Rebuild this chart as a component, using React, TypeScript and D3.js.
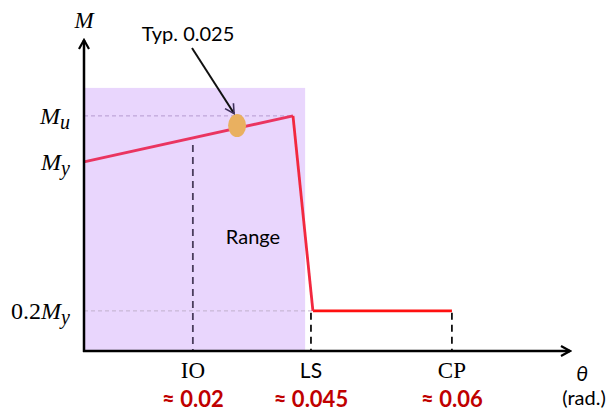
import * as d3 from 'd3';
import { useEffect, useRef } from 'react';

// schematic units: theta on [0,100], M on [0,100]
const backbone = [
  { t: 0, m: 60.8 },
  { t: 43.0, m: 75.6 },
];
const degrade = [
  { t: 43.0, m: 75.6 },
  { t: 47.1, m: 12.9 },
  { t: 75.7, m: 12.9 },
];
const yTicks = [
  { label: 'M', sub: 'u', pre: '', m: 75.6 },
  { label: 'M', sub: 'y', pre: '', m: 60.8 },
  { label: 'M', sub: 'y', pre: '0.2', m: 12.9 },
];
const limits = [
  { name: 'IO', value: '≈ 0.02', t: 22.4, top: 66.2, serif: true, color: '#4a3d5c' },
  { name: 'LS', value: '≈ 0.045', t: 46.7, top: 12.3, serif: false, color: '#111' },
  { name: 'CP', value: '≈ 0.06', t: 75.7, top: 12.3, serif: true, color: '#111' },
];
const rangeBox = { t0: 0, t1: 45.5, m1: 84.6 };
const typical = { t: 31.5, m: 72.5, label: 'Typ. 0.025' };

export default function App() {
  const ref = useRef<SVGSVGElement>(null);

  useEffect(() => {
    const width = 612;
    const height = 413;
    const svg = d3.select(ref.current);
    svg.selectAll('*').remove();

    const x = d3.scaleLinear().domain([0, 100]).range([84, 570]);
    const y = d3.scaleLinear().domain([0, 100]).range([351, 40]);

    const sans = 'Lato, "Open Sans", sans-serif';
    const serif = '"Liberation Serif", "DejaVu Serif", serif';

    const defs = svg.append('defs');
    defs.append('marker')
      .attr('id', 'ax')
      .attr('viewBox', '0 0 12 12')
      .attr('refX', 10).attr('refY', 6)
      .attr('markerWidth', 12).attr('markerHeight', 12)
      .attr('markerUnits', 'userSpaceOnUse')
      .attr('orient', 'auto')
      .append('path')
      .attr('d', 'M1,1 L10,6 L1,11')
      .attr('fill', 'none')
      .attr('stroke', '#000')
      .attr('stroke-width', 2.2);
    defs.append('marker')
      .attr('id', 'pt')
      .attr('viewBox', '0 0 12 12')
      .attr('refX', 10).attr('refY', 6)
      .attr('markerWidth', 12).attr('markerHeight', 12)
      .attr('markerUnits', 'userSpaceOnUse')
      .attr('orient', 'auto')
      .append('path')
      .attr('d', 'M1,1 L10,6 L1,11')
      .attr('fill', 'none')
      .attr('stroke', '#3d2f5a')
      .attr('stroke-width', 1.6);

    // Range box
    svg.append('rect')
      .attr('x', x(rangeBox.t0))
      .attr('y', y(rangeBox.m1))
      .attr('width', x(rangeBox.t1) - x(rangeBox.t0))
      .attr('height', y(0) - y(rangeBox.m1))
      .attr('fill', '#e9d6fd');

    svg.append('text')
      .attr('x', 253).attr('y', 244)
      .attr('text-anchor', 'middle')
      .attr('font-family', sans)
      .attr('font-size', 20)
      .text('Range');

    // horizontal guide lines
    svg.append('line')
      .attr('x1', x(0)).attr('x2', x(43.0))
      .attr('y1', y(75.6)).attr('y2', y(75.6))
      .attr('stroke', '#b59ad0').attr('stroke-width', 1)
      .attr('stroke-dasharray', '4,3');
    svg.append('line')
      .attr('x1', x(0)).attr('x2', x(47.1))
      .attr('y1', y(12.9)).attr('y2', y(12.9))
      .attr('stroke', '#c0b0cc').attr('stroke-width', 1)
      .attr('stroke-dasharray', '4,3');

    // vertical limit lines
    svg.selectAll('line.lim')
      .data(limits)
      .enter()
      .append('line')
      .attr('class', 'lim')
      .attr('x1', d => x(d.t)).attr('x2', d => x(d.t))
      .attr('y1', d => y(d.top)).attr('y2', y(0))
      .attr('stroke', d => d.color)
      .attr('stroke-width', 1.8)
      .attr('stroke-dasharray', '7,5');

    const line = d3.line<{ t: number; m: number }>()
      .x(d => x(d.t))
      .y(d => y(d.m));

    svg.append('path')
      .attr('d', line(degrade.slice(1)))
      .attr('fill', 'none')
      .attr('stroke', '#ff1010')
      .attr('stroke-width', 2.8);
    svg.append('path')
      .attr('d', line(backbone))
      .attr('fill', 'none')
      .attr('stroke', '#ea3560')
      .attr('stroke-width', 2.8);
    svg.append('path')
      .attr('d', line(degrade.slice(0, 2)))
      .attr('fill', 'none')
      .attr('stroke', '#f2283f')
      .attr('stroke-width', 2.8)
      .attr('stroke-linejoin', 'round');

    // typical point
    svg.append('ellipse')
      .attr('cx', x(typical.t)).attr('cy', y(typical.m))
      .attr('rx', 9).attr('ry', 11.5)
      .attr('fill', '#e9b060');

    svg.append('line')
      .attr('x1', 192).attr('y1', 48)
      .attr('x2', x(typical.t) - 3).attr('y2', y(typical.m) - 12)
      .attr('stroke', '#111').attr('stroke-width', 2)
      .attr('marker-end', 'url(#pt)');

    svg.append('text')
      .attr('x', 188).attr('y', 41)
      .attr('text-anchor', 'middle')
      .attr('font-family', sans)
      .attr('font-size', 20)
      .text(typical.label);

    // axes
    svg.append('line')
      .attr('x1', x(0)).attr('y1', y(0) + 1)
      .attr('x2', x(0)).attr('y2', y(100))
      .attr('stroke', '#000').attr('stroke-width', 2.5)
      .attr('marker-end', 'url(#ax)');
    svg.append('line')
      .attr('x1', x(0) - 1).attr('y1', y(0))
      .attr('x2', x(100)).attr('y2', y(0))
      .attr('stroke', '#000').attr('stroke-width', 2.5)
      .attr('marker-end', 'url(#ax)');

    svg.append('text')
      .attr('x', 84).attr('y', 28)
      .attr('text-anchor', 'middle')
      .attr('font-family', serif)
      .attr('font-style', 'italic')
      .attr('font-size', 23)
      .text('M');

    // y labels
    const yl = svg.selectAll('text.yl')
      .data(yTicks)
      .enter()
      .append('text')
      .attr('class', 'yl')
      .attr('x', 70)
      .attr('y', d => y(d.m) + 8)
      .attr('text-anchor', 'end')
      .attr('font-family', serif)
      .attr('font-size', 24);
    yl.append('tspan').text(d => d.pre);
    yl.append('tspan').attr('font-style', 'italic').text(d => d.label);
    yl.append('tspan')
      .attr('font-style', 'italic')
      .attr('font-size', 20)
      .attr('dy', 5)
      .text(d => d.sub);

    // x labels
    svg.selectAll('text.xl')
      .data(limits)
      .enter()
      .append('text')
      .attr('class', 'xl')
      .attr('x', d => x(d.t))
      .attr('y', 378)
      .attr('text-anchor', 'middle')
      .attr('font-family', d => (d.serif ? serif : sans))
      .attr('font-size', d => (d.serif ? 23 : 21))
      .text(d => d.name);

    svg.selectAll('text.xv')
      .data(limits)
      .enter()
      .append('text')
      .attr('class', 'xv')
      .attr('x', d => x(d.t))
      .attr('y', 407)
      .attr('text-anchor', 'middle')
      .attr('font-family', sans)
      .attr('font-weight', 'bold')
      .attr('font-size', 22)
      .attr('fill', '#c00000')
      .text(d => d.value);

    svg.append('text')
      .attr('x', 582).attr('y', 381)
      .attr('text-anchor', 'middle')
      .attr('font-family', sans)
      .attr('font-style', 'italic')
      .attr('font-size', 21)
      .text('θ');
    svg.append('text')
      .attr('x', 584).attr('y', 405)
      .attr('text-anchor', 'middle')
      .attr('font-family', sans)
      .attr('font-size', 20)
      .text('(rad.)');

    svg.attr('width', width).attr('height', height);
  }, []);

  return (
    <svg
      ref={ref}
      width={612}
      height={413}
      style={{ position: 'absolute', left: 0, top: 0, background: '#fff' }}
    />
  );
}
